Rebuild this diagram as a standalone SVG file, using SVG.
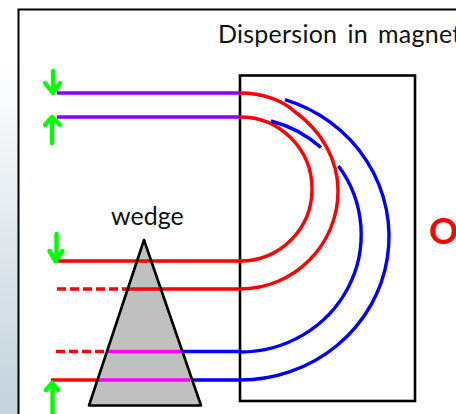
<svg xmlns="http://www.w3.org/2000/svg" width="456" height="414" viewBox="0 0 456 414">
<style>
.t{font-family:Lato,"Open Sans",sans-serif;font-size:25px;fill:#111}
.c{fill:none;stroke-width:3.400}
.r{stroke:#f00}.b{stroke:#00f}.p{stroke:#80f}.m{stroke:#f0f}
.g{fill:none;stroke:#0f0;stroke-width:4.400;stroke-linecap:round;stroke-linejoin:round}
.d{stroke-dasharray:9 4}
</style>
<defs><linearGradient id="bg" x1="0" y1="0" x2="0" y2="1"><stop offset="0.15" stop-color="#fff"/><stop offset="1" stop-color="#c3d2dc"/></linearGradient></defs>
<rect width="456" height="414" fill="#fff"/>
<rect id="side" width="18" height="414" fill="url(#bg)"/>
<path id="frame" d="M18.500 414V9.500H456" fill="none" stroke="#000" stroke-width="2"/>
<g id="title"><text class="t" x="218" y="43" style="word-spacing:3.500px;letter-spacing:.25px">Dispersion in magnet</text></g>
<g id="magnet"><rect x="240" y="75.500" width="175" height="325.500" fill="none" stroke="#000" stroke-width="2.600"/></g>
<g id="connectors">
<path class="c p" d="M57 93H240M57 117H240"/>
<path class="c r" d="M240 93C262 93 282 100 294 111C322 131 338 160 338 191C338 245 294 289 240 289H128"/>
<path class="c r" d="M240 117C280 117 312 149 312 189C312 229 280 261 240 261H58"/>
<path class="c r d" d="M57 289H127M56 351.500H107"/>
<path class="c r" d="M51 380H98"/>
<path class="c b" d="M240 351.500H181M240 380H190"/>
<path class="c b" d="M240 352A121 117.500 0 0 0 338.500 166M240 380A149 143.500 0 0 0 285 99.700"/>
<path class="c b" d="M271 121A121 117.500 0 0 1 321 147.500"/>
</g>
<g id="wedge">
<path d="M144 240L89 405.500H201Z" fill="#c0c0c0"/>
<path class="c r" d="M137 261H152M127 289H160"/>
<path class="c m" d="M107 351.500H181M98 380H190"/>
<path d="M144 240L89 405.500H201Z" fill="none" stroke="#000" stroke-width="2.600" stroke-linejoin="round"/>
</g>
<g id="wedge-label"><text class="t" x="111" y="225">wedge</text></g>
<g id="arrow1"><path class="g" d="M53 71V93M45 83L53 93L60 83"/></g>
<g id="arrow2"><path class="g" d="M52 143V117M45 125L52 117L60 125"/></g>
<g id="arrow3"><path class="g" d="M56.500 234V261M49.500 251L55.500 261L62.500 251"/></g>
<g id="arrow4"><path class="g" d="M52.500 414V383M46 390L52 383L58 390"/></g>
<g id="label-o"><text x="429" y="244" style="font-family:Lato,'Open Sans',sans-serif;font-size:36px;font-weight:700;fill:#f00">O</text></g>
</svg>
